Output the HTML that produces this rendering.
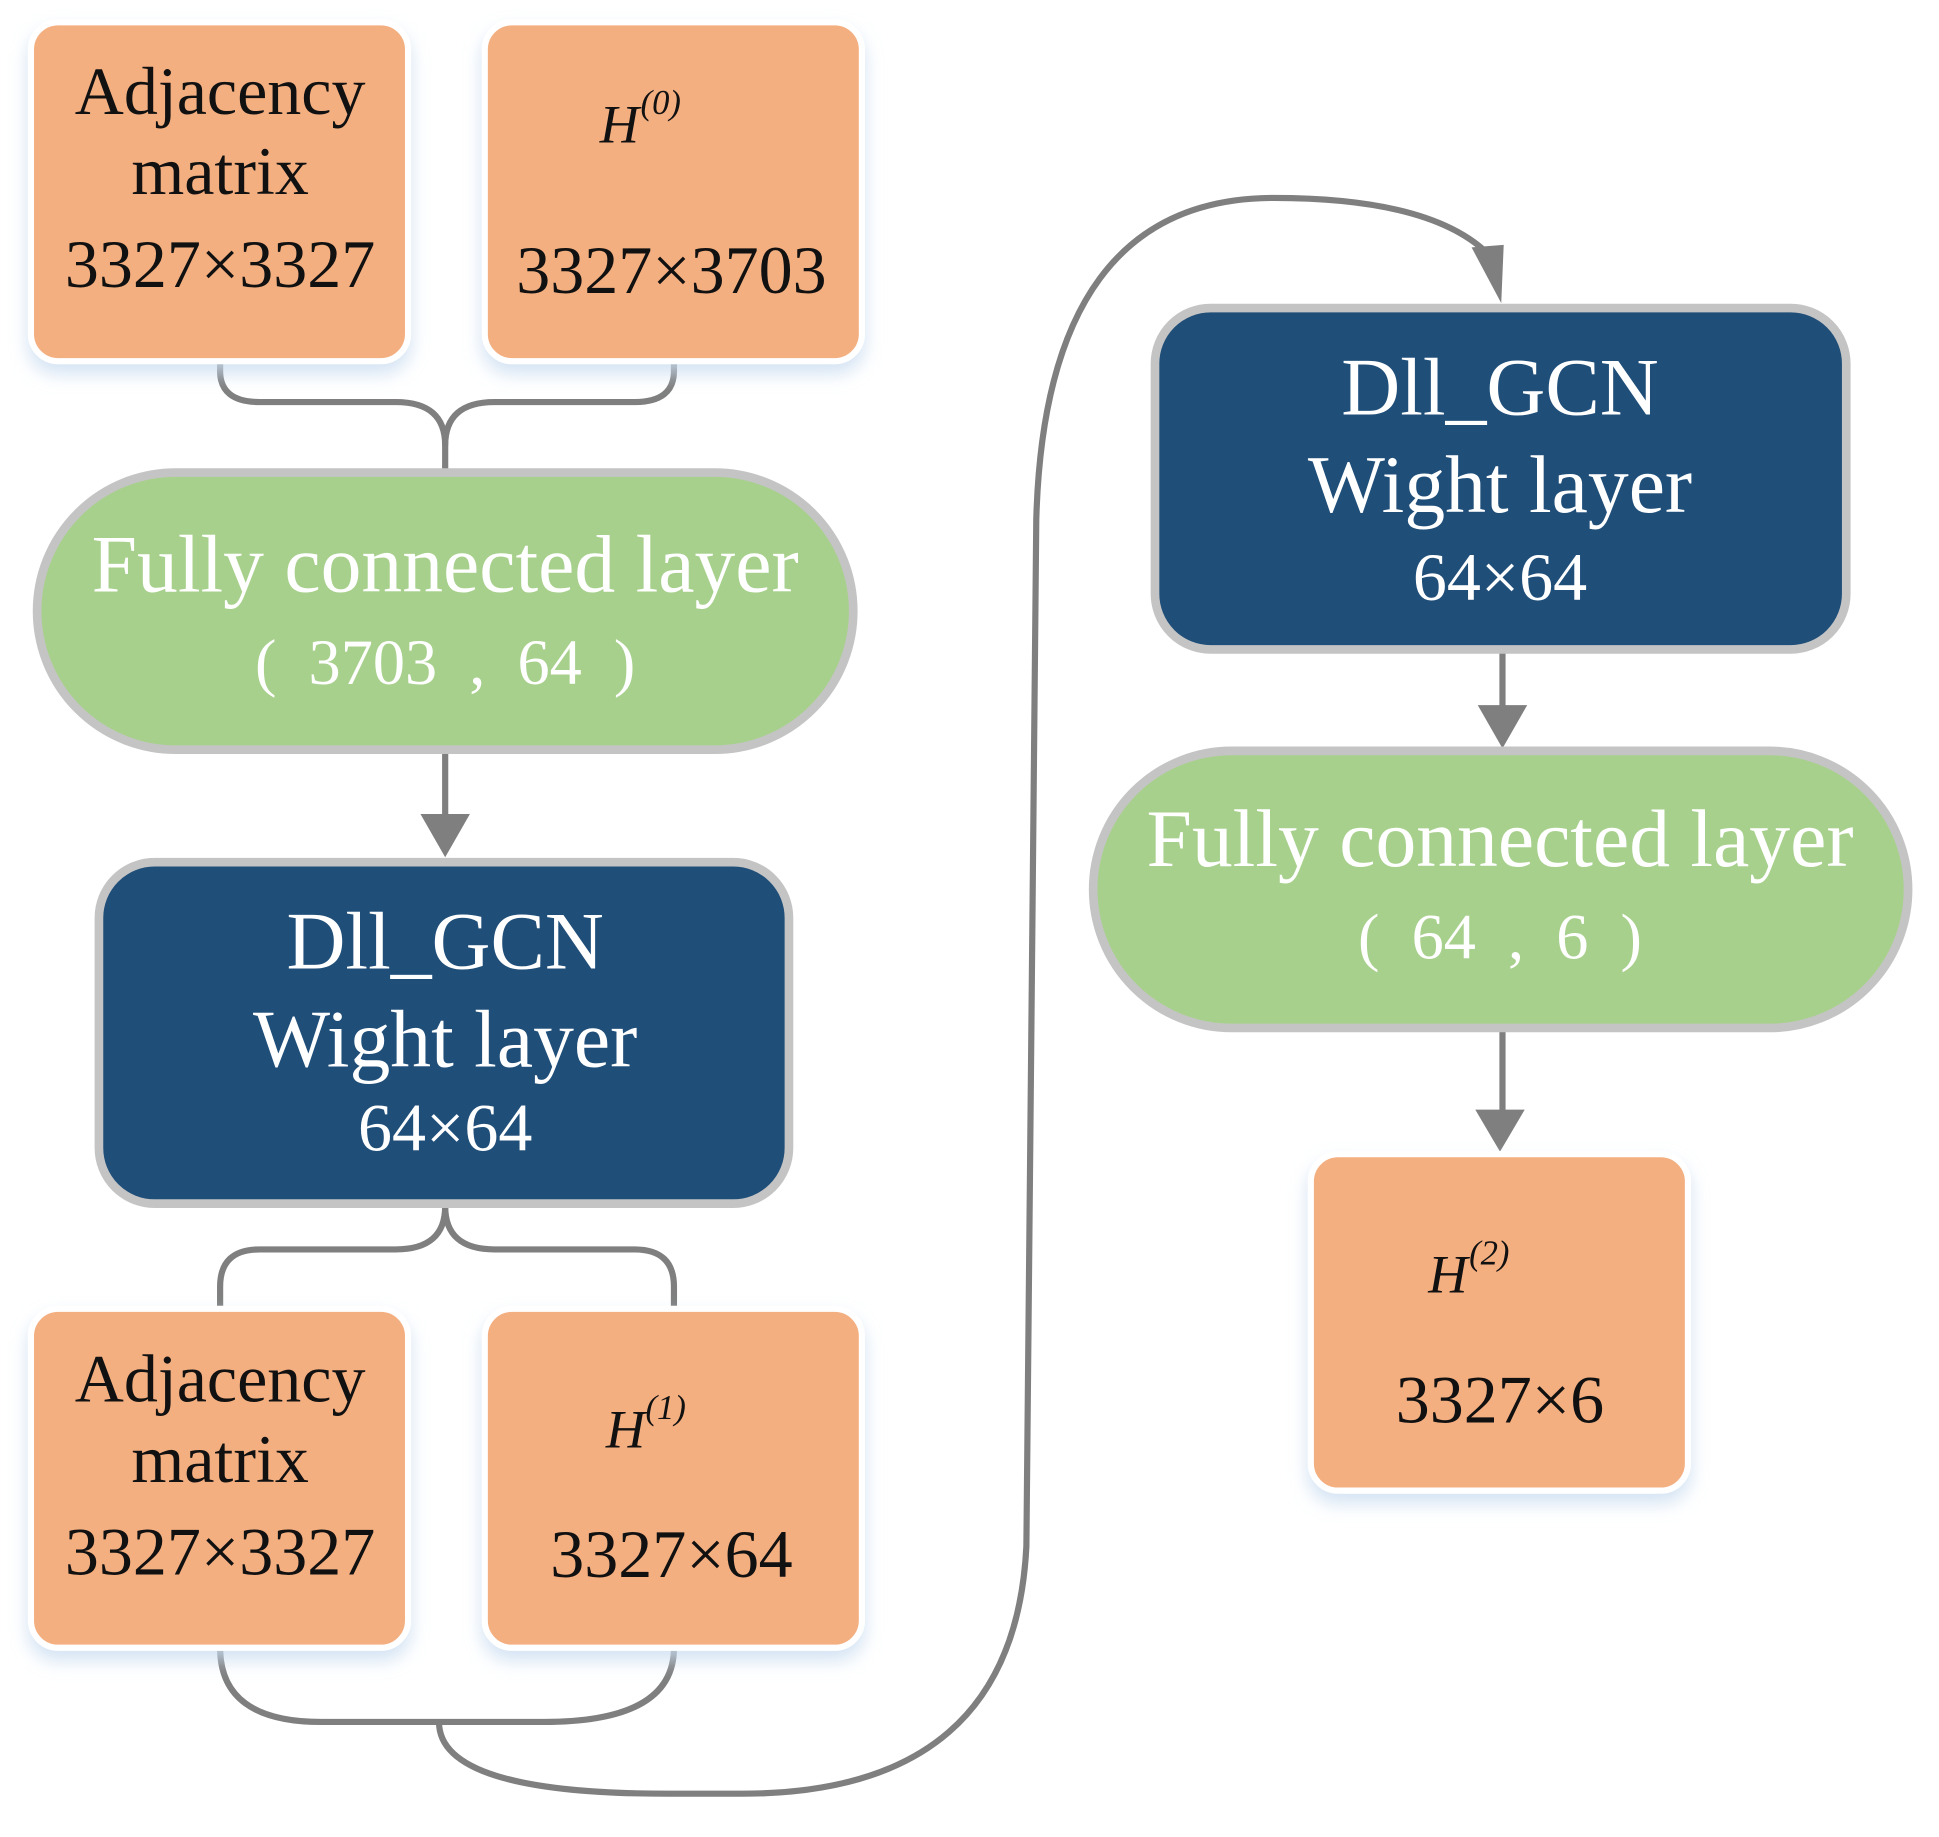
<!DOCTYPE html>
<html><head><meta charset="utf-8"><style>
html,body{margin:0;padding:0;background:#fff;}
svg{display:block;}
text{font-family:"Liberation Serif",serif;}
</style></head><body>
<svg width="1939" height="1837" viewBox="0 0 1568 1485" preserveAspectRatio="none" xmlns="http://www.w3.org/2000/svg">
<defs>
<filter id="glow" x="-20%" y="-20%" width="140%" height="140%">
<feDropShadow dx="0" dy="8" stdDeviation="7" flood-color="#c9dcf0" flood-opacity="0.8"/>
</filter>
</defs>
<g fill="none" stroke="#7f7f7f" stroke-width="5">
<path d="M178 292 V300 Q178 325 210 325 H320 Q360 325 360 360 V380"/>
<path d="M545 292 V300 Q545 325 513 325 H400 Q360 325 360 360"/>
<path d="M360 608 V662"/>
<path d="M360 975 Q360 1010 320 1010 H210 Q178 1010 178 1040 V1058"/>
<path d="M360 975 Q360 1010 400 1010 H513 Q545 1010 545 1040 V1058"/>
<path d="M178 1332 Q178 1392 260 1392 H440 Q545 1392 545 1332"/>
<path d="M355 1392 Q355 1450 540 1450 H600 Q820 1450 830 1250 L838 420 Q845 160 1030 160 Q1170 160 1212 215"/>
<path d="M1215 527 V575"/>
<path d="M1215 833 V905"/>
</g>
<g fill="#7f7f7f">
<polygon points="340,658 380,658 360,693"/>
<polygon points="1190,200 1216,198 1214,245 "/>
<polygon points="1195,570 1235,570 1215,605"/>
<polygon points="1193,897 1233,897 1213,931"/>
</g>
<g fill="#F4AF81" stroke="#fff" stroke-width="5" filter="url(#glow)">
<rect x="25" y="18" width="305" height="274" rx="22"/>
<rect x="392" y="18" width="305" height="274" rx="22"/>
<rect x="25" y="1058" width="305" height="274" rx="22"/>
<rect x="392" y="1058" width="305" height="274" rx="22"/>
<rect x="1060" y="933" width="305" height="272" rx="22"/>
</g>
<g fill="#A8D08D" stroke="#c4c4c4" stroke-width="7">
<rect x="30" y="382" width="660" height="224" rx="112"/>
<rect x="884" y="607" width="659" height="224" rx="112"/>
</g>
<g fill="#1F4E79" stroke="#c4c4c4" stroke-width="7">
<rect x="80" y="697" width="558" height="276" rx="45"/>
<rect x="934" y="249" width="559" height="276" rx="45"/>
</g>
<g fill="#111" font-size="55" text-anchor="middle">
<text x="178" y="92">Adjacency</text>
<text x="178" y="157">matrix</text>
<text x="178" y="232">3327×3327</text>
<text x="543" y="237">3327×3703</text>
<text x="178" y="1133">Adjacency</text>
<text x="178" y="1198">matrix</text>
<text x="178" y="1273">3327×3327</text>
<text x="543" y="1275">3327×64</text>
<text x="1213" y="1150">3327×6</text>
</g>
<g fill="#111" font-style="italic">
<text x="485" y="115" font-size="44">H</text><text x="518" y="92" font-size="28">(0)</text>
<text x="490" y="1170" font-size="44">H</text><text x="522" y="1147" font-size="28">(1)</text>
<text x="1155" y="1045" font-size="44">H</text><text x="1188" y="1022" font-size="28">(2)</text>
</g>
<g fill="#fff" text-anchor="middle">
<text x="360" y="478" font-size="66">Fully connected layer</text>
<text x="360" y="553" font-size="52" xml:space="preserve">(  3703  ,  64  )</text>
<text x="1213" y="700" font-size="66">Fully connected layer</text>
<text x="1213" y="775" font-size="52" xml:space="preserve">(  64  ,  6  )</text>
<text x="360" y="783" font-size="66">Dll_GCN</text>
<text x="360" y="862" font-size="66">Wight layer</text>
<text x="360" y="930" font-size="55">64×64</text>
<text x="1213" y="335" font-size="66">Dll_GCN</text>
<text x="1213" y="414" font-size="66">Wight layer</text>
<text x="1213" y="485" font-size="55">64×64</text>
</g>
</svg>
</body></html>
